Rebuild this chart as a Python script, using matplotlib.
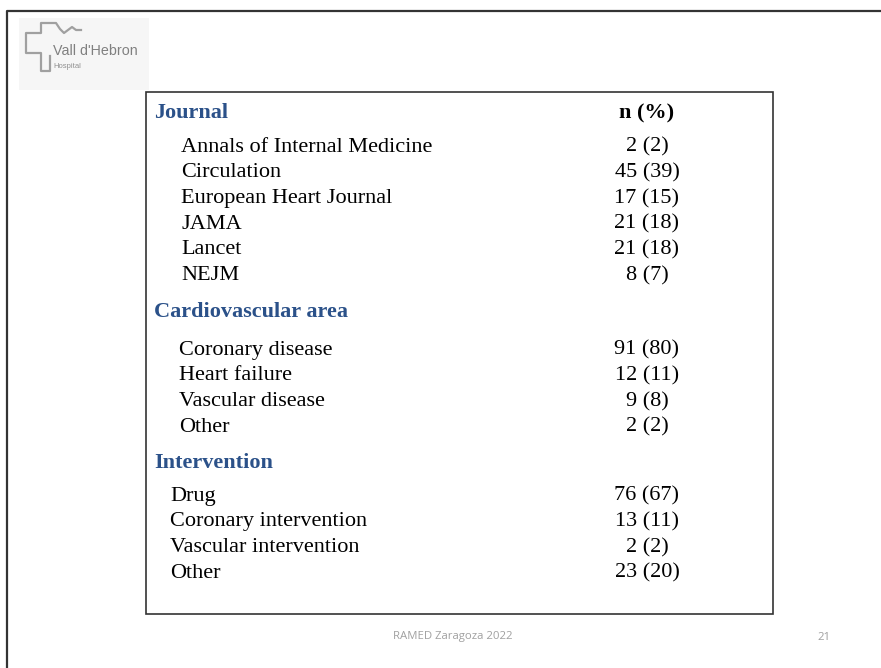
import matplotlib
matplotlib.use("Agg")
import matplotlib.pyplot as plt
from matplotlib.patches import Rectangle

# ---- data ----
journal_names = ["Annals of Internal Medicine", "Circulation", "European Heart Journal",
                 "JAMA", "Lancet", "NEJM"]
journal_n = [2, 45, 17, 21, 21, 8]
journal_pct = [2, 39, 15, 18, 18, 7]

area_names = ["Coronary disease", "Heart failure", "Vascular disease", "Other"]
area_n = [91, 12, 9, 2]
area_pct = [80, 11, 8, 2]

interv_names = ["Drug", "Coronary intervention", "Vascular intervention", "Other"]
interv_n = [76, 13, 2, 23]
interv_pct = [67, 11, 2, 20]

section_titles = ["Journal", "Cardiovascular area", "Intervention"]
value_header = "n (%)"
footer_text = "RAMED Zaragoza 2022"
page_number = "21"

# ---- figure ----
W, H = 881, 668
fig = plt.figure(figsize=(W / 100, H / 100), dpi=100)
ax = fig.add_axes([0, 0, 1, 1])
ax.set_xlim(0, W)
ax.set_ylim(H, 0)
ax.axis("off")

serif = ["Liberation Serif", "DejaVu Serif"]
blue = "#2B5189"
fs = 16

# slide frame
ax.plot([6.5, 6.5, W], [H, 10.5, 10.5], color="#333333", lw=1.6, solid_capstyle="butt")

# logo
ax.add_patch(Rectangle((19, 18), 130, 72, facecolor="#F6F6F6", edgecolor="none"))
cx = [50, 50, 41, 41, 26, 26, 41, 41, 56, 60, 64, 68, 72, 76, 81]
cy = [56, 71, 71, 53, 53, 33, 33, 23, 23, 29, 33, 30, 27, 30, 30]
ax.plot(cx, cy, color="#A0A0A0", lw=1.6, solid_joinstyle="round")
ax.text(53, 51, "Vall d'Hebron", fontsize=10.3, color="#808080", family="Liberation Sans",
        va="center", ha="left")
ax.text(53, 67, "Hospital", fontsize=5.5, color="#909090", family="Liberation Sans",
        va="center", ha="left")

# table box
ax.add_patch(Rectangle((145.5, 91.5), 627.5, 522.5, facecolor="white", edgecolor="#333333", lw=1.2))

val_x = 647
dy = 2.0

def fmt(n, p):
    return f"{n} ({p})"

# section headers
header_y = [111, 310, 461]
for t, y in zip(section_titles, header_y):
    ax.text(154, y + dy, t, fontsize=fs, fontweight="bold", color=blue, family=serif,
            va="center", ha="left")
ax.text(val_x, 111 + dy, value_header, fontsize=fs, fontweight="bold", color="black", family=serif,
        va="center", ha="center")

step = 25.7
groups = [
    (journal_names, journal_n, journal_pct, 181, 145),
    (area_names, area_n, area_pct, 179, 348),
    (interv_names, interv_n, interv_pct, 170, 494),
]
for names, ns, ps, x0, y0 in groups:
    for i, (nm, n, p) in enumerate(zip(names, ns, ps)):
        y = y0 + i * step + dy
        ax.text(x0, y, nm, fontsize=fs, color="black", family=serif, va="center", ha="left")
        ax.text(val_x, y, fmt(n, p), fontsize=fs, color="black", family=serif,
                va="center", ha="center")

# footer
ax.text(453, 637, footer_text, fontsize=8.2, color="#A0A0A0", family="Open Sans",
        va="center", ha="center")
ax.text(824, 637, page_number, fontsize=8.2, color="#A0A0A0", family="Open Sans",
        va="center", ha="center")

fig.savefig("out.png", dpi=100)
